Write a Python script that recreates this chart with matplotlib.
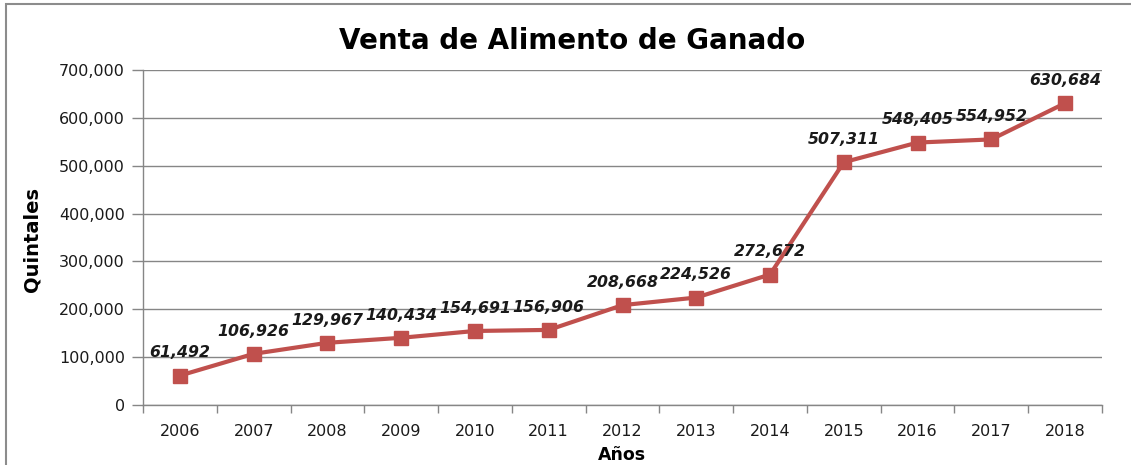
import matplotlib
matplotlib.use('Agg')
import matplotlib.pyplot as plt
from matplotlib.patches import Rectangle
from matplotlib.ticker import FuncFormatter, FixedLocator

YEARS = ['2006', '2007', '2008', '2009', '2010', '2011', '2012',
         '2013', '2014', '2015', '2016', '2017', '2018']
SALES = [61492, 106926, 129967, 140434, 154691, 156906, 208668,
         224526, 272672, 507311, 548405, 554952, 630684]

LINE_COLOR = '#C0504D'
GRID_COLOR = '#868686'
TEXT_COLOR = '#1a1a1a'

fig = plt.figure(figsize=(11.31, 4.65), dpi=100)
fig.patches.append(Rectangle((6 / 1131, -0.1), 1.2, 1.1 - 4 / 465,
                             transform=fig.transFigure, fill=False,
                             edgecolor='#8c8c8c', lw=1.5))

ax = fig.add_axes([143 / 1131, 1 - 405 / 465, 959 / 1131, 335 / 465])

x = list(range(len(YEARS)))
ax.plot(x, SALES, color=LINE_COLOR, lw=3, marker='s', ms=10,
        markerfacecolor=LINE_COLOR, markeredgecolor=LINE_COLOR, zorder=3)

for xi, v in zip(x, SALES):
    ax.annotate(f'{v:,}', (xi, v), xytext=(0, 11), textcoords='offset points',
                ha='center', va='bottom', fontsize=11.3, fontweight='bold',
                fontstyle='italic', color=TEXT_COLOR)

ax.set_xlim(-0.5, len(YEARS) - 0.5)
ax.set_ylim(0, 700000)
ax.set_yticks(range(0, 700001, 100000))
ax.yaxis.set_major_formatter(FuncFormatter(lambda v, _: f'{int(v):,}'))
ax.grid(axis='y', color=GRID_COLOR, lw=1)
ax.set_axisbelow(True)

ax.xaxis.set_major_locator(FixedLocator([i - 0.5 for i in range(len(YEARS) + 1)]))
ax.xaxis.set_minor_locator(FixedLocator(x))
ax.set_xticklabels([], minor=False)
ax.set_xticks(x, YEARS, minor=True)
ax.tick_params(axis='x', which='major', length=6, color=GRID_COLOR, width=1)
ax.tick_params(axis='x', which='minor', length=0, pad=14, labelsize=11.5,
               labelcolor=TEXT_COLOR)
ax.tick_params(axis='y', length=8, color=GRID_COLOR, width=1, pad=5,
               labelsize=11.5, labelcolor=TEXT_COLOR)

for side in ['top', 'right']:
    ax.spines[side].set_visible(False)
for side in ['left', 'bottom']:
    ax.spines[side].set_color(GRID_COLOR)
    ax.spines[side].set_linewidth(1)

fig.text(572 / 1131, 1 - 41 / 465, 'Venta de Alimento de Ganado', ha='center',
         va='center', fontsize=20, fontweight='bold', color='black')
fig.text(32 / 1131, 1 - 240 / 465, 'Quintales', rotation=90, ha='center',
         va='center', fontsize=14, fontweight='bold', color='black')
fig.text(622 / 1131, 1 - 455 / 465, 'Años', ha='center', va='center',
         fontsize=12.5, fontweight='bold', color='black')

fig.savefig('out.png', dpi=100)
